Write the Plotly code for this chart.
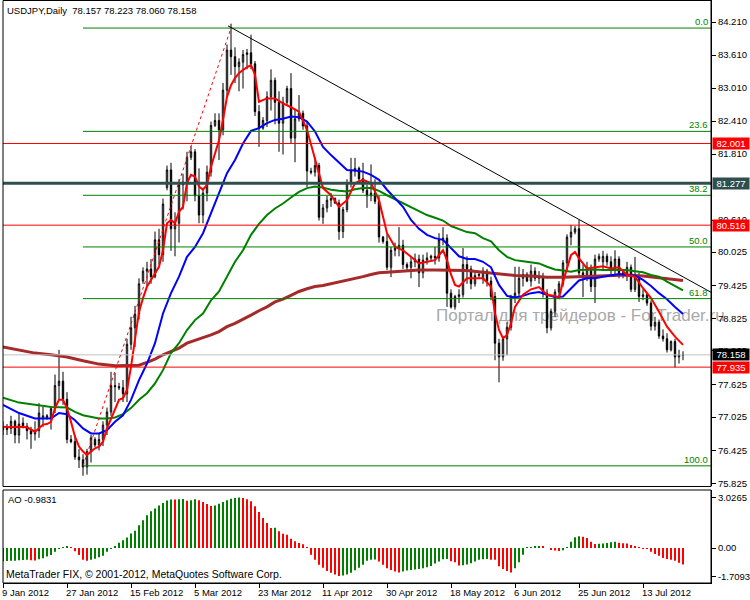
"""
USDJPY daily chart in MetaTrader style: candles, moving averages,
Fibonacci retracement, trend line and an Awesome Oscillator panel.
"""

import plotly.graph_objects as go

# ---------------------------------------------------------------------------
# Data
# ---------------------------------------------------------------------------
symbol = "USDJPY,Daily"

opens = [
    76.85, 76.80, 76.82, 76.95, 76.70, 76.92, 76.86, 76.78, 76.72, 76.78,
    77.00, 77.05, 77.00, 77.18, 77.60, 77.68, 77.35, 76.62, 76.58, 76.30,
    76.25, 76.12, 76.40, 76.62, 76.52, 76.62, 76.88, 77.12, 77.60, 77.58,
    77.56, 77.45, 78.35, 78.65, 78.90, 79.50, 79.68, 79.72, 79.58, 80.25,
    79.98, 81.20, 81.52, 80.45, 80.55, 81.25, 81.30, 81.75, 81.85, 81.05,
    80.70, 81.10, 81.48, 82.33, 82.42, 82.25, 82.97, 83.70, 83.58, 83.40,
    83.48, 83.62, 83.65, 83.45, 82.58, 82.28, 82.42, 82.85, 83.15, 82.75,
    82.37, 82.75, 83.00, 82.10, 82.45, 82.55, 82.32, 81.50, 81.48, 81.60,
    80.66, 80.83, 80.97, 81.00, 80.92, 80.40, 80.80, 81.28, 81.50, 81.55,
    81.36, 81.15, 81.05, 81.10, 80.95, 80.30, 80.22, 79.75, 80.06, 80.10,
    80.15, 79.80, 79.75, 79.85, 79.90, 79.65, 79.88, 79.92, 79.95, 79.92,
    80.25, 80.28, 79.28, 79.03, 79.22, 79.25, 79.80, 79.72, 79.45, 79.60,
    79.55, 79.68, 79.50, 79.22, 78.37, 78.12, 78.45, 78.66, 79.21, 79.28,
    79.55, 79.62, 79.50, 79.68, 79.55, 79.58, 79.28, 78.65, 78.95, 79.30,
    79.45, 79.83, 80.30, 80.39, 80.45, 79.65, 79.60, 79.75, 79.40, 79.90,
    79.85, 79.95, 79.85, 79.70, 79.90, 79.65, 79.60, 79.75, 79.35, 79.60,
    79.22, 79.25, 79.10, 78.68, 78.75, 78.50, 78.45, 78.25, 78.40, 78.12,
    78.157,
]
highs = [
    76.95, 76.90, 77.05, 76.98, 77.10, 77.02, 76.92, 76.85, 76.95, 77.28,
    77.21, 77.08, 77.22, 77.80, 78.25, 77.85, 77.48, 76.70, 76.70, 76.45,
    76.35, 76.45, 76.70, 76.66, 76.72, 76.95, 77.20, 77.85, 77.83, 77.65,
    77.70, 78.45, 78.85, 79.05, 79.55, 79.75, 79.85, 79.90, 80.40, 80.45,
    81.00, 81.60, 81.65, 80.75, 81.35, 81.45, 81.85, 81.95, 81.90, 81.55,
    81.20, 81.60, 82.40, 82.55, 82.55, 83.10, 83.80, 84.18, 83.75, 83.55,
    83.70, 83.72, 83.98, 83.50, 82.70, 82.48, 82.95, 83.35, 83.20, 82.95,
    82.85, 83.05, 83.28, 82.62, 82.88, 82.60, 82.40, 81.56, 81.75, 81.65,
    80.90, 81.05, 81.10, 81.02, 80.98, 80.85, 81.35, 81.74, 81.74, 81.58,
    81.65, 81.25, 81.62, 81.35, 81.05, 80.32, 80.35, 80.12, 80.20, 80.48,
    80.25, 79.84, 79.95, 80.00, 79.98, 79.98, 80.02, 79.98, 80.12, 80.37,
    80.48, 80.35, 79.35, 79.25, 79.35, 80.10, 79.95, 79.78, 79.70, 79.66,
    79.75, 79.72, 79.58, 79.30, 78.45, 78.50, 78.75, 79.25, 79.76, 79.76,
    79.72, 79.66, 79.80, 79.75, 79.68, 79.65, 79.35, 79.00, 79.35, 79.50,
    79.88, 80.35, 80.52, 80.50, 80.61, 79.80, 79.85, 79.80, 79.98, 80.00,
    80.05, 80.00, 79.95, 80.06, 79.95, 79.68, 79.85, 79.80, 79.94, 79.65,
    79.35, 79.28, 79.15, 78.85, 78.80, 78.62, 78.55, 78.42, 78.45, 78.25,
    78.223,
]
lows = [
    76.70, 76.70, 76.72, 76.55, 76.55, 76.82, 76.62, 76.45, 76.60, 76.65,
    76.85, 76.98, 76.80, 77.10, 77.35, 77.25, 76.55, 76.55, 76.25, 76.10,
    75.96, 75.98, 76.20, 76.48, 76.42, 76.50, 76.70, 77.05, 77.30, 77.52,
    77.30, 77.30, 78.25, 78.30, 78.80, 79.45, 79.40, 79.45, 79.55, 79.80,
    79.85, 81.15, 80.05, 79.95, 80.20, 80.80, 80.95, 81.70, 80.95, 80.55,
    80.55, 80.95, 81.40, 82.30, 81.70, 82.15, 82.85, 83.25, 83.10, 82.95,
    83.00, 83.35, 83.35, 82.50, 81.94, 82.25, 82.30, 82.60, 82.35, 81.85,
    81.80, 82.70, 82.00, 81.66, 82.40, 82.25, 81.21, 81.44, 81.40, 80.60,
    80.54, 80.75, 80.85, 80.90, 80.25, 80.28, 80.75, 81.20, 81.40, 81.32,
    81.10, 80.83, 80.95, 80.90, 80.20, 80.18, 79.70, 79.57, 79.95, 79.95,
    79.72, 79.70, 79.55, 79.75, 79.39, 79.55, 79.80, 79.88, 79.80, 79.85,
    80.15, 79.03, 79.00, 78.98, 79.10, 79.20, 79.45, 79.35, 79.40, 79.56,
    79.45, 79.40, 79.15, 78.06, 77.66, 78.05, 78.15, 78.60, 79.10, 79.20,
    79.40, 79.48, 79.40, 79.50, 79.45, 79.20, 78.55, 78.60, 78.85, 79.20,
    79.40, 79.70, 80.15, 80.35, 79.60, 79.21, 79.50, 79.30, 79.10, 79.85,
    79.70, 79.78, 79.62, 79.62, 79.55, 79.55, 79.50, 79.30, 79.30, 79.12,
    79.15, 79.05, 78.60, 78.60, 78.45, 78.40, 78.20, 78.22, 77.93, 78.00,
    78.060,
]
closes = [
    76.80, 76.82, 76.95, 76.70, 76.90, 76.86, 76.78, 76.72, 76.78, 77.10,
    77.05, 77.00, 77.18, 77.60, 77.68, 77.35, 76.62, 76.58, 76.30, 76.25,
    76.12, 76.40, 76.65, 76.52, 76.62, 76.88, 77.12, 77.60, 77.58, 77.56,
    77.45, 78.35, 78.65, 78.90, 79.45, 79.68, 79.72, 79.58, 80.25, 79.98,
    80.90, 81.52, 80.45, 80.55, 81.25, 81.30, 81.75, 81.85, 81.05, 80.70,
    81.10, 81.48, 82.33, 82.42, 82.25, 82.97, 83.70, 83.58, 83.40, 83.48,
    83.62, 83.65, 83.45, 82.58, 82.28, 82.42, 82.85, 83.15, 82.75, 82.37,
    82.75, 83.00, 82.10, 82.45, 82.55, 82.32, 81.50, 81.48, 81.60, 80.66,
    80.83, 80.97, 81.00, 80.92, 80.40, 80.80, 81.28, 81.50, 81.55, 81.36,
    81.15, 81.05, 81.10, 80.95, 80.30, 80.22, 79.75, 80.06, 80.10, 80.15,
    79.80, 79.75, 79.85, 79.90, 79.65, 79.88, 79.92, 79.95, 79.92, 80.25,
    80.28, 79.28, 79.03, 79.22, 79.25, 79.80, 79.72, 79.45, 79.60, 79.62,
    79.68, 79.50, 79.22, 78.37, 78.12, 78.45, 78.66, 79.21, 79.28, 79.55,
    79.62, 79.50, 79.68, 79.55, 79.58, 79.28, 78.65, 78.95, 79.30, 79.45,
    79.83, 80.30, 80.39, 80.45, 79.65, 79.60, 79.75, 79.40, 79.90, 79.95,
    79.95, 79.85, 79.70, 79.90, 79.65, 79.60, 79.75, 79.35, 79.60, 79.22,
    79.25, 79.10, 78.68, 78.75, 78.50, 78.45, 78.25, 78.40, 78.12, 78.16,
    78.158,
]

# Moving averages: (bar index, value)
red_ma_x = [0, 2, 4, 6, 8, 10, 11, 12, 13, 14, 15, 16, 17, 18, 19, 20, 21, 22,
            23, 24, 25, 26, 27, 28, 29, 30, 31, 32, 33, 34, 35, 36, 37, 38, 39,
            40, 41, 42, 43, 44, 45, 46, 47, 48, 49, 50, 51, 52, 53, 54, 55, 56,
            57, 58, 59, 60, 62, 63, 64, 66, 68, 70, 72, 74, 76, 78, 80, 82, 84,
            86, 88, 90, 92, 94, 96, 98, 100, 102, 104, 106, 108, 110, 111, 112,
            113, 114, 116, 118, 120, 122, 123, 124, 125, 126, 127, 128, 130,
            132, 134, 136, 138, 139, 140, 141, 142, 143, 144, 146, 148, 150,
            152, 154, 156, 158, 160, 162, 164, 166, 168, 170]
red_ma_y = [76.85, 76.84, 76.85, 76.84, 76.76, 76.89, 76.90, 76.94, 77.19,
            77.34, 77.34, 77.19, 76.94, 76.67, 76.49, 76.40, 76.34, 76.40,
            76.46, 76.49, 76.58, 76.82, 77.00, 77.19, 77.34, 77.37, 77.52,
            77.94, 78.43, 78.94, 79.19, 79.40, 79.52, 79.65, 79.76, 80.06,
            80.55, 80.61, 80.55, 80.76, 80.85, 81.28, 81.43, 81.40, 81.22,
            81.16, 81.25, 81.58, 81.82, 82.06, 82.43, 82.85, 83.06, 83.19,
            83.28, 83.34, 83.43, 83.25, 82.76, 82.82, 82.82, 82.73, 82.66,
            82.58, 82.25, 81.70, 81.19, 81.06, 80.85, 80.97, 81.28, 81.34,
            81.28, 80.97, 80.37, 80.12, 80.06, 79.94, 79.82, 79.85, 79.88,
            80.06, 79.88, 79.62, 79.43, 79.40, 79.55, 79.55, 79.55, 79.40,
            78.91, 78.61, 78.46, 78.52, 78.73, 79.03, 79.25, 79.35, 79.39,
            79.25, 79.23, 79.19, 79.49, 79.73, 79.97, 80.03, 79.91, 79.73,
            79.75, 79.77, 79.73, 79.75, 79.61, 79.58, 79.37, 79.19, 78.94,
            78.67, 78.49, 78.34]

blue_ma_x = [0, 4, 8, 12, 14, 16, 18, 20, 22, 24, 26, 28, 30, 32, 34, 36, 38,
             40, 42, 44, 46, 48, 50, 52, 54, 56, 58, 60, 62, 64, 66, 68, 70,
             72, 74, 76, 78, 80, 82, 84, 86, 88, 90, 92, 94, 96, 98, 100, 102,
             104, 106, 108, 110, 112, 114, 116, 118, 120, 122, 124, 126, 128,
             130, 132, 134, 136, 138, 140, 142, 144, 146, 148, 150, 152, 154,
             156, 158, 160, 162, 164, 166, 168, 170]
blue_ma_y = [77.25, 77.10, 77.00, 77.00, 77.10, 77.08, 76.97, 76.82, 76.73,
             76.73, 76.79, 76.94, 77.06, 77.34, 77.70, 78.00, 78.37, 78.91,
             79.28, 79.58, 79.94, 80.12, 80.37, 80.73, 81.10, 81.46, 81.70,
             82.00, 82.23, 82.28, 82.37, 82.43, 82.45, 82.49, 82.48, 82.40,
             82.22, 81.94, 81.79, 81.65, 81.52, 81.51, 81.49, 81.43, 81.34,
             81.16, 81.00, 80.85, 80.61, 80.45, 80.34, 80.28, 80.25, 80.09,
             79.95, 79.90, 79.90, 79.85, 79.75, 79.43, 79.23, 79.20, 79.23,
             79.28, 79.30, 79.25, 79.21, 79.22, 79.37, 79.51, 79.55, 79.55,
             79.58, 79.61, 79.63, 79.61, 79.60, 79.52, 79.41, 79.28, 79.17,
             79.03, 78.90]

green_ma_x = [0, 4, 8, 12, 16, 18, 20, 22, 24, 26, 28, 30, 32, 34, 36, 38, 40,
              42, 44, 46, 48, 50, 52, 54, 56, 58, 60, 62, 64, 66, 68, 70, 72,
              74, 76, 78, 80, 82, 84, 86, 88, 90, 92, 94, 96, 98, 100, 102,
              104, 106, 108, 110, 112, 114, 116, 118, 120, 122, 124, 126, 128,
              130, 132, 134, 136, 138, 140, 142, 144, 146, 148, 150, 152, 154,
              156, 158, 160, 162, 164, 166, 168, 170]
green_ma_y = [77.38, 77.29, 77.25, 77.21, 77.20, 77.12, 77.06, 77.03, 77.00,
              77.00, 77.02, 77.08, 77.19, 77.34, 77.46, 77.64, 77.88, 78.19,
              78.37, 78.61, 78.79, 78.91, 79.15, 79.31, 79.58, 79.85, 80.06,
              80.34, 80.54, 80.70, 80.82, 80.91, 81.02, 81.12, 81.19, 81.22,
              81.20, 81.16, 81.14, 81.13, 81.17, 81.19, 81.19, 81.14, 81.06,
              80.99, 80.92, 80.85, 80.77, 80.70, 80.65, 80.60, 80.50, 80.44,
              80.39, 80.37, 80.28, 80.22, 80.06, 79.94, 79.88, 79.86, 79.84,
              79.82, 79.76, 79.71, 79.69, 79.67, 79.70, 79.71, 79.71, 79.70,
              79.70, 79.69, 79.70, 79.68, 79.66, 79.61, 79.58, 79.49, 79.41,
              79.33]

brown_ma_x = [0, 4, 8, 12, 16, 20, 24, 28, 32, 34, 36, 38, 40, 42, 44, 46, 48,
              50, 52, 54, 56, 58, 60, 62, 64, 66, 68, 70, 72, 74, 76, 78, 80,
              82, 84, 86, 88, 90, 92, 94, 96, 98, 100, 104, 108, 112, 116, 120,
              124, 128, 132, 136, 140, 144, 148, 152, 156, 160, 164, 168, 170]
brown_ma_y = [78.30, 78.25, 78.19, 78.16, 78.12, 78.05, 77.99, 77.96, 77.96,
              77.97, 78.02, 78.08, 78.16, 78.22, 78.28, 78.37, 78.42, 78.46,
              78.52, 78.58, 78.67, 78.73, 78.80, 78.88, 78.96, 79.03, 79.12,
              79.17, 79.24, 79.31, 79.36, 79.40, 79.42, 79.45, 79.48, 79.51,
              79.54, 79.58, 79.62, 79.65, 79.66, 79.67, 79.69, 79.70, 79.70,
              79.70, 79.69, 79.66, 79.63, 79.60, 79.59, 79.57, 79.57, 79.58,
              79.58, 79.59, 79.61, 79.59, 79.56, 79.52, 79.51]

# Awesome Oscillator, one value per bar
ao = [
    -0.80, -0.78, -0.77, -0.76, -0.74, -0.72, -0.70, -0.73, -0.75, -0.67,
    -0.61, -0.51, -0.42, -0.22, -0.06, 0.05, 0.07, 0.04, -0.20, -0.42,
    -0.71, -0.77, -0.71, -0.65, -0.55, -0.47, -0.22, -0.03, 0.12, 0.32,
    0.47, 0.63, 0.87, 1.03, 1.36, 1.66, 1.96, 2.20, 2.36, 2.55,
    2.69, 2.85, 2.91, 2.90, 2.92, 2.93, 2.83, 2.86, 2.92, 2.86,
    2.76, 2.63, 2.52, 2.55, 2.65, 2.76, 2.86, 2.95, 3.00, 3.02,
    3.00, 2.92, 2.80, 2.50, 2.15, 1.80, 1.50, 1.20, 1.22, 1.00,
    0.85, 0.80, 0.55, 0.40, 0.30, 0.22, 0.02, -0.40, -0.71, -1.00,
    -1.19, -1.38, -1.48, -1.58, -1.68, -1.64, -1.58, -1.48, -1.33, -1.19,
    -1.00, -0.77, -0.71, -0.69, -0.81, -1.01, -1.21, -1.31, -1.40, -1.46,
    -1.40, -1.34, -1.31, -1.29, -1.26, -1.21, -1.15, -1.08, -0.93, -0.81,
    -0.67, -0.66, -0.80, -0.86, -1.05, -1.03, -0.99, -0.91, -0.81, -0.71,
    -0.68, -0.66, -0.70, -0.71, -1.10, -1.25, -1.38, -1.46, -1.21, -0.85,
    -0.40, 0.04, 0.06, 0.07, 0.09, 0.07, 0.00, -0.10, -0.15, -0.18,
    -0.14, 0.05, 0.38, 0.65, 0.71, 0.68, 0.60, 0.38, 0.24, 0.25,
    0.27, 0.30, 0.34, 0.38, 0.32, 0.28, 0.27, 0.18, 0.08, 0.02,
    -0.02, -0.06, -0.22, -0.36, -0.46, -0.60, -0.66, -0.71, -0.76, -0.88,
    -0.9831,
]

# Date axis: a label every 16 bars
tick_bars = [0, 16, 32, 48, 64, 80, 96, 112, 128, 144, 160]
tick_labels = ["9 Jan 2012", "27 Jan 2012", "15 Feb 2012", "5 Mar 2012",
               "23 Mar 2012", "11 Apr 2012", "30 Apr 2012", "18 May 2012",
               "6 Jun 2012", "25 Jun 2012", "13 Jul 2012"]

# 81.210 sits completely under the 81.277 marker, so it is not listed
price_ticks = [84.210, 83.610, 83.010, 82.410, 81.810, 80.610, 80.025,
               79.425, 78.825, 78.235, 77.625, 77.025, 76.425, 75.825]
price_tick_labels = ["84.210", "83.610", "83.010", "82.410", "81.810",
                     "80.610", "80.025", "79.425", "78.825", "78.235", "77.625",
                     "77.025", "76.425", "75.825"]
ao_ticks = [3.0265, 0.0, -1.7093]
ao_tick_labels = ["3.0265", "0.00", "-1.7093"]

# Chart objects
red_levels = [82.001, 80.516, 77.935]
pivot_level = 81.277
fib_low_bar, fib_low = 20, 76.14
fib_high_bar, fib_high = 57, 84.10
fib_ratios = [0.0, 23.6, 38.2, 50.0, 61.8, 100.0]
trend_x = [56.25, 144.25]
trend_y = [84.14, 80.61]

watermark = "Портал для трейдеров - ForTrader.ru"
copyright_text = "MetaTrader FIX, © 2001-2012, MetaQuotes Software Corp."

# ---------------------------------------------------------------------------
W, H = 750, 600
X_RANGE = [0, 177]
FONT = "Liberation Sans"


def px_x(px):
    return px / W


def px_y(py):
    return 1 - py / H


def create_usdjpy_chart() -> go.Figure:
    """Build the MetaTrader-like figure with a price panel and an AO panel."""
    bars = list(range(len(closes)))
    fig = go.Figure()

    # Candles
    fig.add_trace(go.Candlestick(
        x=bars, open=opens, high=highs, low=lows, close=closes,
        increasing=dict(line=dict(color="black", width=1), fillcolor="white"),
        decreasing=dict(line=dict(color="black", width=1), fillcolor="black"),
        whiskerwidth=0, hoverinfo="skip", showlegend=False,
        xaxis="x", yaxis="y",
    ))

    # Moving averages
    for mx, my, color, width in [
        (brown_ma_x, brown_ma_y, "#a52a2a", 3),
        (green_ma_x, green_ma_y, "#008000", 2),
        (blue_ma_x, blue_ma_y, "#0000ff", 2),
        (red_ma_x, red_ma_y, "#ff0000", 2),
    ]:
        fig.add_trace(go.Scatter(
            x=mx, y=my, mode="lines", line=dict(color=color, width=width),
            hoverinfo="skip", showlegend=False, xaxis="x", yaxis="y",
        ))

    # Awesome Oscillator: green when rising, red when falling
    ao_colors = ["#008000"] + [
        "#008000" if ao[i] >= ao[i - 1] else "#ff0000" for i in range(1, len(ao))
    ]
    fig.add_trace(go.Bar(
        x=bars, y=ao, width=0.45, marker=dict(color=ao_colors, line=dict(width=0)),
        hoverinfo="skip", showlegend=False, xaxis="x", yaxis="y2",
    ))

    shapes = []

    # Watermark sits behind everything
    shapes.append(dict(
        type="rect", xref="paper", yref="paper",
        x0=px_x(433), x1=px_x(750), y0=px_y(324), y1=px_y(302),
        line=dict(width=0), fillcolor="rgba(0,0,0,0)", layer="below",
        label=dict(text=watermark, textposition="middle left", padding=0,
                   font=dict(family=FONT, size=17, color="#a9a9a9")),
    ))

    # Horizontal levels
    for lvl in red_levels:
        shapes.append(dict(type="line", xref="x", yref="y", x0=X_RANGE[0],
                           x1=X_RANGE[1], y0=lvl, y1=lvl,
                           line=dict(color="#ff0000", width=1)))
    shapes.append(dict(type="line", xref="x", yref="y", x0=X_RANGE[0],
                       x1=X_RANGE[1], y0=pivot_level, y1=pivot_level,
                       line=dict(color="#2f4f4f", width=3)))
    shapes.append(dict(type="line", xref="x", yref="y", x0=X_RANGE[0],
                       x1=X_RANGE[1], y0=closes[-1], y1=closes[-1],
                       line=dict(color="#c0c0c0", width=1)))

    # Fibonacci retracement
    fib_span = fib_high - fib_low
    for r in fib_ratios:
        lvl = fib_high - fib_span * r / 100
        shapes.append(dict(type="line", xref="x", yref="y", x0=fib_low_bar,
                           x1=X_RANGE[1], y0=lvl, y1=lvl,
                           line=dict(color="#008000", width=1)))
    shapes.append(dict(type="line", xref="x", yref="y", x0=fib_low_bar,
                       x1=fib_high_bar, y0=fib_low, y1=fib_high,
                       line=dict(color="#ff0000", width=1, dash="dot")))

    # Trend line (ray to the right edge)
    slope = (trend_y[1] - trend_y[0]) / (trend_x[1] - trend_x[0])
    trend_end = trend_y[0] + slope * (X_RANGE[1] - trend_x[0])
    shapes.append(dict(type="line", xref="x", yref="y", x0=trend_x[0],
                       x1=X_RANGE[1], y0=trend_y[0], y1=trend_end,
                       line=dict(color="black", width=1)))

    # Panel frames
    shapes.append(dict(type="rect", xref="paper", yref="paper",
                       x0=px_x(3), x1=px_x(711), y0=px_y(486.5), y1=px_y(0.5),
                       line=dict(color="black", width=1)))
    shapes.append(dict(type="rect", xref="paper", yref="paper",
                       x0=px_x(3), x1=px_x(711), y0=px_y(583), y1=px_y(490),
                       line=dict(color="black", width=1)))

    annotations = []

    # Fibonacci labels
    for r in fib_ratios:
        lvl = fib_high - fib_span * r / 100
        annotations.append(dict(
            x=px_x(709), xref="paper", y=lvl, yref="y", text=f"{r:.1f}",
            xanchor="right", yanchor="bottom", showarrow=False,
            font=dict(family=FONT, size=9.5, color="#008000"), borderpad=0,
        ))

    # Price boxes on the scale
    boxes = [(red_levels[0], "#ff0000"), (pivot_level, "#2f4f4f"),
             (red_levels[1], "#ff0000"), (closes[-1], "black"),
             (red_levels[2], "#ff0000")]
    for val, bg in boxes:
        annotations.append(dict(
            x=px_x(712), xref="paper", y=val, yref="y", text=f"{val:.3f}",
            xanchor="left", yanchor="middle", showarrow=False, bgcolor=bg,
            width=34, height=9, borderpad=1,
            font=dict(family=FONT, size=9.5, color="white"),
        ))

    # Date labels, left aligned at their ticks
    for b, lab in zip(tick_bars, tick_labels):
        annotations.append(dict(
            x=b, xref="x", y=px_y(592), yref="paper", text=lab,
            xanchor="left", yanchor="middle", showarrow=False, xshift=-3,
            font=dict(family=FONT, size=9.5, color="black"),
        ))

    # Header and panel texts
    header = f"{symbol}  {opens[-1]:.3f} {highs[-1]:.3f} {lows[-1]:.3f} {closes[-1]:.3f}"
    annotations.append(dict(x=px_x(5), xref="paper", y=px_y(11), yref="paper",
                            text=header, xanchor="left", yanchor="middle",
                            showarrow=False, font=dict(family=FONT, size=9.5)))
    annotations.append(dict(x=px_x(6), xref="paper", y=px_y(499), yref="paper",
                            text=f"AO {ao[-1]:.4f}", xanchor="left",
                            yanchor="middle", showarrow=False,
                            font=dict(family=FONT, size=9.5)))
    annotations.append(dict(x=px_x(4), xref="paper", y=px_y(574), yref="paper",
                            text=copyright_text, xanchor="left",
                            yanchor="middle", showarrow=False,
                            font=dict(family=FONT, size=10.5)))

    axis_font = dict(family=FONT, size=9.5, color="black")
    fig.update_layout(
        width=W, height=H,
        margin=dict(l=0, r=0, t=0, b=0, pad=0, autoexpand=False),
        paper_bgcolor="white", plot_bgcolor="rgba(0,0,0,0)",
        showlegend=False, boxgap=0.5,
        font=dict(family=FONT, size=9.5, color="black"),
        shapes=shapes, annotations=annotations,
        xaxis=dict(
            domain=[px_x(3), px_x(711)], range=X_RANGE, anchor="y2",
            showline=True, linecolor="black", linewidth=1,
            ticks="outside", ticklen=4, tickcolor="black",
            tickvals=tick_bars, showticklabels=False, automargin=False,
            showgrid=False, zeroline=False, rangeslider=dict(visible=False),
        ),
        yaxis=dict(
            domain=[px_y(486), 1.0], range=[84.61 - 486 / 55, 84.61],
            side="right", anchor="x", showline=True, linecolor="black",
            ticks="outside", ticklen=4, tickcolor="black",
            tickvals=price_ticks, ticktext=price_tick_labels, automargin=False,
            tickfont=axis_font, showgrid=False, zeroline=False,
        ),
        yaxis2=dict(
            domain=[px_y(583), px_y(490)], range=[-35 / 16.7, 58 / 16.7],
            side="right", anchor="x", showline=True, linecolor="black",
            ticks="outside", ticklen=4, tickcolor="black",
            tickvals=ao_ticks, ticktext=ao_tick_labels, automargin=False,
            tickfont=axis_font, showgrid=False, zeroline=False,
        ),
    )
    return fig


fig = create_usdjpy_chart()
# The page's default body margin would shift the chart; remove it.
fig.write_html("out.html",
               config={"displayModeBar": False},
               post_script="document.body.style.margin='0px';")
